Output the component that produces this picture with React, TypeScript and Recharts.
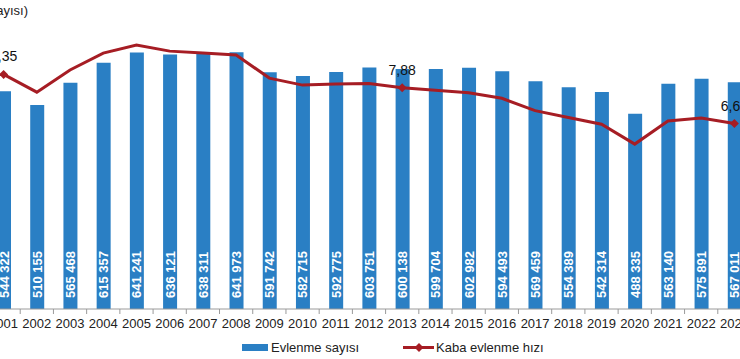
import React from 'react';
import {
  ComposedChart, Bar, Line, XAxis, YAxis, LabelList,
} from 'recharts';

const years = [
  '2001', '2002', '2003', '2004', '2005', '2006', '2007', '2008', '2009', '2010', '2011', '2012',
  '2013', '2014', '2015', '2016', '2017', '2018', '2019', '2020', '2021', '2022', '2023',
];

// Evlenme sayısı
const marriages = [
  544322, 510155, 565468, 615357, 641241, 636121, 638311, 641973, 591742, 582715, 592775, 603751,
  600138, 599704, 602982, 594493, 569459, 554389, 542314, 488335, 563140, 575891, 567011,
];

// Kaba evlenme hızı (binde)
const rates = [
  8.35, 7.72, 8.51, 9.11, 9.40, 9.18, 9.11, 9.04, 8.22, 7.97, 8.01, 8.03,
  7.88, 7.79, 7.70, 7.50, 7.06, 6.82, 6.58, 5.87, 6.69, 6.80, 6.60,
];

// sadece bu yıllarda etiket + işaret var
const labeledYears = ['2001', '2013', '2023'];

const BLUE = '#2A7FC4';
const RED = '#A61D24';
const FONT = '"Liberation Sans", Arial, sans-serif';

const CHART_W = 764;
const BAND = CHART_W / years.length;

const fmtCount = (v: number) => String(v).replace(/\B(?=(\d{3})+(?!\d))/g, ' ');
const fmtRate = (v: number) => v.toFixed(2).replace('.', ',');

const data = years.map((year, i) => ({
  year,
  marriages: marriages[i],
  rate: rates[i],
  marked: labeledYears.includes(year),
  rateLabel: labeledYears.includes(year) ? fmtRate(rates[i]) : '',
}));

const YearTick = (props: any) => {
  const { x, y, payload, index } = props;
  const left = x - BAND / 2;
  return (
    <g>
      <line x1={left} x2={left} y1={y - 8} y2={y - 3} stroke="#9a9a9a" />
      {index === years.length - 1 && (
        <line x1={x + BAND / 2} x2={x + BAND / 2} y1={y - 8} y2={y - 3} stroke="#9a9a9a" />
      )}
      <text x={x} y={y + 11} textAnchor="middle" fontSize={13} fill="#222" fontFamily={FONT}>
        {payload.value}
      </text>
    </g>
  );
};

const BarValue = (props: any) => {
  const { x, y, width, height, value } = props;
  const cx = x + width / 2;
  const by = y + height - 11;
  return (
    <text
      x={cx}
      y={by}
      transform={`rotate(-90, ${cx}, ${by})`}
      textAnchor="start"
      dominantBaseline="central"
      fill="#fff"
      fontSize={13}
      fontWeight="bold"
      fontFamily={FONT}
    >
      {fmtCount(value)}
    </text>
  );
};

const RateLabel = (props: any) => {
  const { x, y, value } = props;
  if (!value) return null;
  return (
    <text x={x} y={y - 13} textAnchor="middle" fontSize={14} fill="#111" fontFamily={FONT}>
      {value}
    </text>
  );
};

const Diamond = (props: any) => {
  const { cx, cy, payload, index } = props;
  if (!payload?.marked) return <g key={`d-${index}`} />;
  const r = 4.5;
  return (
    <path
      key={`d-${index}`}
      d={`M${cx},${cy - r}L${cx + r},${cy}L${cx},${cy + r}L${cx - r},${cy}Z`}
      fill={RED}
    />
  );
};

export default function App() {
  return (
    <div
      style={{
        position: 'fixed', left: 0, top: 0, width: 740, height: 359,
        overflow: 'hidden', background: '#fff', fontFamily: FONT,
      }}
    >
      <div style={{ position: 'absolute', left: -13, top: 0 }}>
        <ComposedChart
          width={CHART_W}
          height={359}
          data={data}
          margin={{ top: 0, right: 0, bottom: 20, left: 0 }}
        >
          <XAxis
            dataKey="year"
            height={30}
            stroke="#9a9a9a"
            tickLine={false}
            tick={<YearTick />}
            interval={0}
          />
          <YAxis yAxisId="count" hide domain={[0, 772500]} />
          <YAxis yAxisId="rate" hide orientation="right" domain={[0, 11]} />
          <Bar
            yAxisId="count"
            dataKey="marriages"
            fill={BLUE}
            barSize={14}
            isAnimationActive={false}
          >
            <LabelList dataKey="marriages" content={<BarValue />} />
          </Bar>
          <Line
            yAxisId="rate"
            type="linear"
            dataKey="rate"
            stroke={RED}
            strokeWidth={3}
            dot={Diamond}
            activeDot={false}
            isAnimationActive={false}
          >
            <LabelList dataKey="rateLabel" content={<RateLabel />} />
          </Line>
        </ComposedChart>
      </div>

      {/* eksen başlığı (sol tarafta kesik) */}
      <div style={{ position: 'absolute', right: 740 - 28, top: 3, fontSize: 13, color: '#222', whiteSpace: 'nowrap' }}>
        (Evlenme sayısı)
      </div>

      {/* lejant */}
      <svg style={{ position: 'absolute', left: 0, top: 338 }} width={740} height={20}>
        <rect x={242} y={6} width={26} height={7} fill={BLUE} />
        <text x={271} y={14} fontSize={13} fill="#222" fontFamily={FONT}>Evlenme sayısı</text>
        <line x1={403} x2={434} y1={9.5} y2={9.5} stroke={RED} strokeWidth={3} />
        <path d="M419,5L423.5,9.5L419,14L414.5,9.5Z" fill={RED} />
        <text x={436} y={14} fontSize={13} fill="#222" fontFamily={FONT}>Kaba evlenme hızı</text>
      </svg>
    </div>
  );
}
